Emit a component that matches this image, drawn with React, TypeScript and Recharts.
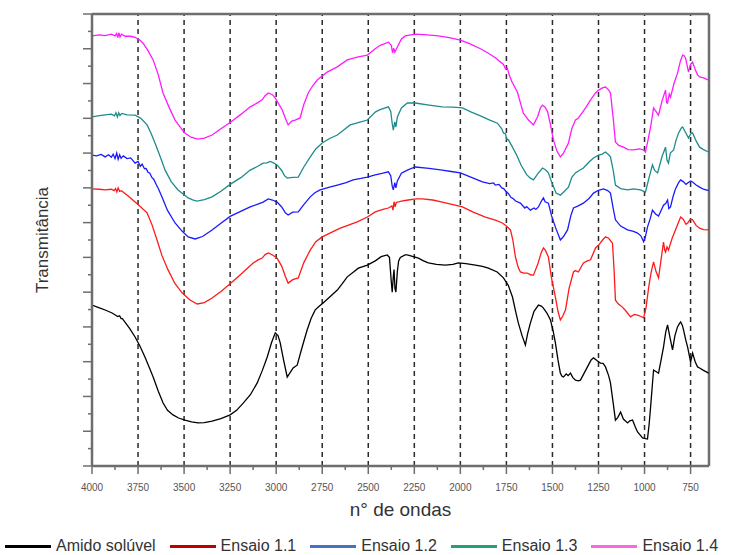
import { LineChart, Line, XAxis, YAxis, ReferenceLine } from 'recharts';

// [wavenumber, transmittance (a.u.)]
const amido: number[][] = [
  [4000, 4.63], [3960, 4.55], [3925, 4.48], [3891, 4.4], [3860, 4.3], [3850, 4.32], [3842, 4.24], [3835, 4.24], [3821, 4.14],
  [3795, 3.95], [3766, 3.71], [3740, 3.45], [3712, 3.13], [3690, 2.85], [3668, 2.56], [3640, 2.15], [3614, 1.81], [3590, 1.6],
  [3560, 1.47], [3530, 1.38], [3495, 1.32], [3460, 1.27], [3424, 1.24], [3390, 1.25], [3348, 1.29], [3300, 1.36], [3250, 1.47],
  [3215, 1.6], [3179, 1.81], [3140, 2.05], [3103, 2.39], [3075, 2.75], [3049, 3.13], [3025, 3.55], [3005, 3.83], [2990, 3.75],
  [2978, 3.54], [2960, 3.05], [2940, 2.56], [2920, 2.72], [2908, 2.82], [2886, 2.9], [2860, 3.4], [2832, 3.91], [2810, 4.25],
  [2788, 4.49], [2765, 4.6], [2745, 4.69], [2705, 4.88], [2668, 5.06], [2640, 5.25], [2614, 5.44], [2580, 5.58], [2554, 5.69],
  [2505, 5.78], [2462, 5.9], [2430, 6.02], [2397, 6.07], [2385, 6.0], [2375, 5.3], [2370, 5.0], [2364, 5.45], [2360, 5.65],
  [2355, 5.1], [2350, 5.0], [2342, 5.6], [2335, 5.9], [2326, 6.0], [2300, 6.07], [2288, 6.07], [2260, 6.03], [2228, 5.98],
  [2200, 5.9], [2174, 5.84], [2130, 5.8], [2082, 5.78], [2040, 5.8], [2011, 5.84], [1970, 5.82], [1918, 5.78], [1880, 5.74],
  [1848, 5.69], [1800, 5.58], [1766, 5.41], [1740, 5.2], [1717, 4.86], [1700, 4.45], [1685, 4.11], [1665, 3.75], [1647, 3.48],
  [1635, 3.8], [1620, 4.11], [1600, 4.45], [1576, 4.63], [1560, 4.6], [1549, 4.54], [1530, 4.4], [1511, 4.2], [1495, 3.85],
  [1484, 3.54], [1470, 3.05], [1457, 2.67], [1448, 2.58], [1440, 2.56], [1425, 2.65], [1415, 2.6], [1402, 2.67], [1390, 2.55],
  [1375, 2.47], [1360, 2.45], [1348, 2.47], [1330, 2.65], [1310, 2.85], [1290, 3.05], [1277, 3.11], [1255, 3.02], [1239, 2.96],
  [1225, 2.95], [1212, 2.85], [1195, 2.6], [1185, 2.39], [1170, 1.8], [1158, 1.32], [1145, 1.4], [1130, 1.55], [1115, 1.35],
  [1092, 1.24], [1080, 1.3], [1065, 1.32], [1050, 1.12], [1038, 0.98], [1022, 0.88], [1011, 0.81], [995, 0.79], [984, 0.78],
  [975, 1.2], [967, 1.7], [958, 2.3], [951, 2.76], [938, 2.72], [924, 2.67], [910, 3.05], [897, 3.42], [885, 3.85], [875, 4.06],
  [862, 3.7], [848, 3.34], [835, 3.75], [821, 4.0], [810, 4.1], [804, 4.14], [795, 4.05], [788, 3.91], [775, 3.6], [766, 3.42],
  [756, 3.15], [750, 2.99], [739, 3.25], [725, 3.0], [712, 2.85], [701, 2.82], [680, 2.75], [652, 2.67],
];

const ensaio11: number[][] = [
  [4000, 7.97], [3960, 7.96], [3929, 7.94], [3895, 7.96], [3880, 7.92], [3872, 7.98], [3865, 7.88], [3858, 8.0], [3850, 7.9],
  [3840, 7.92], [3800, 7.75], [3766, 7.59], [3735, 7.45], [3701, 7.28], [3675, 6.95], [3647, 6.5], [3620, 6.05], [3587, 5.64],
  [3550, 5.25], [3511, 4.98], [3470, 4.78], [3429, 4.66], [3390, 4.7], [3348, 4.83], [3300, 5.02], [3250, 5.24], [3190, 5.52],
  [3125, 5.84], [3100, 5.92], [3076, 5.98], [3060, 6.08], [3043, 6.13], [3020, 6.07], [2995, 5.98], [2970, 5.75], [2950, 5.45],
  [2935, 5.26], [2910, 5.36], [2880, 5.41], [2850, 5.85], [2815, 6.21], [2785, 6.45], [2750, 6.59], [2700, 6.72], [2652, 6.84],
  [2600, 6.94], [2560, 7.02], [2505, 7.16], [2462, 7.31], [2420, 7.38], [2391, 7.42], [2372, 7.48], [2366, 7.36], [2360, 7.6],
  [2354, 7.45], [2348, 7.58], [2320, 7.62], [2283, 7.65], [2240, 7.68], [2207, 7.68], [2150, 7.65], [2098, 7.59], [2040, 7.52],
  [1989, 7.45], [1930, 7.3], [1864, 7.16], [1810, 7.07], [1772, 6.99], [1750, 6.9], [1728, 6.79], [1715, 6.5], [1701, 6.01],
  [1685, 5.7], [1674, 5.58], [1655, 5.55], [1636, 5.55], [1620, 5.5], [1603, 5.49], [1580, 5.8], [1560, 6.15], [1549, 6.27],
  [1538, 6.2], [1522, 6.01], [1505, 5.4], [1484, 4.86], [1470, 4.45], [1457, 4.2], [1445, 4.3], [1429, 4.49], [1410, 5.1],
  [1386, 5.58], [1375, 5.62], [1359, 5.58], [1332, 5.84], [1310, 5.9], [1293, 5.93], [1280, 6.1], [1266, 6.27], [1245, 6.38],
  [1228, 6.5], [1212, 6.59], [1195, 6.55], [1174, 6.41], [1165, 5.6], [1158, 4.77], [1140, 4.65], [1120, 4.57], [1100, 4.45],
  [1076, 4.29], [1055, 4.36], [1038, 4.34], [1020, 4.3], [1005, 4.26], [992, 4.55], [978, 5.12], [965, 5.55], [951, 5.87],
  [938, 5.6], [924, 5.41], [910, 5.95], [897, 6.44], [890, 6.2], [886, 6.15], [878, 6.3], [870, 6.21], [850, 6.55], [832, 6.79],
  [815, 7.02], [804, 7.16], [790, 7.1], [775, 6.95], [766, 6.99], [750, 7.1], [739, 7.08], [720, 6.92], [701, 6.84], [680, 6.8],
  [652, 6.79],
];

const ensaio12: number[][] = [
  [4000, 8.94], [3975, 8.92], [3950, 8.96], [3929, 8.89], [3910, 8.95], [3895, 8.88], [3885, 8.97], [3875, 8.84], [3866, 9.0],
  [3858, 8.82], [3850, 8.95], [3842, 8.85], [3830, 8.92], [3810, 8.84], [3790, 8.86], [3766, 8.71], [3750, 8.76], [3738, 8.62],
  [3728, 8.68], [3715, 8.55], [3706, 8.56], [3696, 8.45], [3686, 8.42], [3675, 8.3], [3665, 8.25], [3650, 8.08], [3640, 7.98],
  [3620, 7.74], [3590, 7.35], [3549, 6.99], [3510, 6.75], [3478, 6.59], [3440, 6.53], [3400, 6.6], [3348, 6.79], [3300, 6.98],
  [3250, 7.18], [3190, 7.33], [3141, 7.45], [3100, 7.53], [3071, 7.59], [3043, 7.68], [3020, 7.65], [2995, 7.59], [2970, 7.45],
  [2950, 7.28], [2935, 7.22], [2910, 7.3], [2880, 7.31], [2850, 7.52], [2815, 7.74], [2790, 7.86], [2761, 7.94], [2710, 8.02],
  [2668, 8.08], [2620, 8.15], [2582, 8.23], [2540, 8.27], [2505, 8.31], [2462, 8.37], [2420, 8.42], [2391, 8.46], [2378, 8.35],
  [2370, 8.05], [2364, 7.94], [2356, 8.15], [2350, 8.0], [2342, 8.2], [2320, 8.42], [2288, 8.51], [2245, 8.6], [2170, 8.56],
  [2098, 8.51], [2050, 8.47], [2000, 8.43], [1940, 8.3], [1880, 8.17], [1840, 8.12], [1820, 8.14], [1810, 8.08], [1790, 8.1],
  [1775, 8.0], [1765, 7.98], [1750, 7.88], [1739, 7.84], [1725, 7.72], [1715, 7.7], [1700, 7.62], [1674, 7.56], [1650, 7.42],
  [1640, 7.46], [1620, 7.36], [1600, 7.42], [1590, 7.38], [1576, 7.45], [1560, 7.62], [1549, 7.71], [1540, 7.6], [1522, 7.56],
  [1505, 7.2], [1484, 6.87], [1457, 6.5], [1440, 6.6], [1418, 6.79], [1400, 7.2], [1386, 7.42], [1360, 7.48], [1332, 7.56],
  [1300, 7.7], [1277, 7.85], [1250, 7.93], [1223, 7.97], [1200, 7.92], [1185, 7.85], [1170, 7.4], [1158, 7.08], [1130, 6.9],
  [1092, 6.79], [1060, 6.75], [1038, 6.7], [1020, 6.62], [1005, 6.45], [995, 6.6], [984, 6.87], [970, 7.1], [957, 7.36],
  [940, 7.25], [924, 7.19], [910, 7.35], [897, 7.5], [885, 7.55], [875, 7.65], [868, 7.4], [859, 7.45], [845, 7.75], [832, 7.97],
  [815, 8.15], [804, 8.23], [790, 8.18], [775, 8.1], [766, 8.14], [750, 8.2], [739, 8.17], [720, 8.08], [701, 8.02], [680, 7.96],
  [652, 7.92],
];

const ensaio13: number[][] = [
  [4000, 10.04], [3960, 10.08], [3929, 10.1], [3895, 10.12], [3878, 10.07], [3870, 10.16], [3862, 10.04], [3855, 10.16],
  [3848, 10.08], [3838, 10.14], [3810, 10.1], [3766, 10.09], [3735, 10.0], [3701, 9.81], [3680, 9.58], [3658, 9.29], [3630, 8.9],
  [3603, 8.51], [3570, 8.18], [3533, 7.94], [3500, 7.8], [3478, 7.71], [3450, 7.65], [3429, 7.62], [3390, 7.66], [3348, 7.74],
  [3300, 7.9], [3250, 8.1], [3190, 8.3], [3141, 8.51], [3100, 8.62], [3071, 8.71], [3050, 8.72], [3033, 8.76], [3015, 8.72],
  [2995, 8.66], [2970, 8.5], [2955, 8.35], [2940, 8.28], [2910, 8.3], [2880, 8.31], [2850, 8.6], [2815, 8.89], [2785, 9.12],
  [2750, 9.29], [2710, 9.42], [2668, 9.52], [2630, 9.68], [2598, 9.81], [2550, 9.88], [2505, 9.95], [2462, 10.18], [2440, 10.24],
  [2391, 10.33], [2378, 10.2], [2370, 9.85], [2364, 9.66], [2356, 9.9], [2350, 9.75], [2342, 10.04], [2320, 10.3], [2288, 10.44],
  [2245, 10.44], [2170, 10.38], [2098, 10.33], [2040, 10.32], [1989, 10.3], [1940, 10.18], [1891, 10.07], [1840, 9.95],
  [1799, 9.86], [1775, 9.7], [1766, 9.58], [1755, 9.55], [1748, 9.4], [1739, 9.38], [1720, 9.2], [1695, 8.95], [1670, 8.65],
  [1640, 8.38], [1620, 8.28], [1603, 8.23], [1580, 8.4], [1554, 8.57], [1538, 8.52], [1522, 8.43], [1500, 8.1], [1480, 7.85],
  [1457, 7.79], [1435, 7.9], [1413, 8.02], [1395, 8.3], [1375, 8.43], [1355, 8.5], [1332, 8.57], [1300, 8.75], [1277, 8.86],
  [1250, 8.94], [1230, 8.97], [1212, 9.03], [1195, 8.95], [1185, 8.89], [1170, 8.5], [1158, 8.08], [1130, 7.98], [1092, 7.94],
  [1060, 7.97], [1022, 7.94], [995, 7.88], [975, 8.3], [957, 8.66], [945, 8.5], [929, 8.43], [905, 8.9], [886, 9.17], [878, 8.8],
  [870, 8.71], [860, 9.0], [842, 9.09], [830, 9.35], [815, 9.58], [800, 9.72], [793, 9.75], [778, 9.6], [761, 9.43], [750, 9.55],
  [739, 9.58], [720, 9.35], [701, 9.17], [680, 9.1], [652, 9.03],
];

const ensaio14: number[][] = [
  [4000, 12.37], [3960, 12.4], [3929, 12.38], [3895, 12.42], [3875, 12.37], [3866, 12.44], [3860, 12.32], [3854, 12.46],
  [3848, 12.34], [3840, 12.42], [3820, 12.36], [3790, 12.36], [3766, 12.33], [3740, 12.25], [3723, 12.16], [3700, 11.98],
  [3668, 11.68], [3640, 11.25], [3614, 10.72], [3580, 10.3], [3549, 9.95], [3520, 9.74], [3495, 9.57], [3460, 9.45], [3424, 9.4],
  [3390, 9.43], [3348, 9.52], [3300, 9.7], [3250, 9.88], [3190, 10.12], [3141, 10.33], [3100, 10.45], [3076, 10.53],
  [3060, 10.65], [3043, 10.73], [3020, 10.68], [3005, 10.58], [2985, 10.4], [2967, 10.24], [2950, 10.0], [2935, 9.81],
  [2915, 9.92], [2897, 9.95], [2870, 10.01], [2850, 10.4], [2826, 10.73], [2800, 10.95], [2777, 11.1], [2750, 11.22],
  [2723, 11.33], [2668, 11.48], [2614, 11.68], [2560, 11.76], [2505, 11.82], [2462, 12.0], [2435, 12.1], [2391, 12.19],
  [2375, 12.1], [2368, 11.88], [2362, 12.02], [2356, 11.9], [2342, 12.05], [2320, 12.28], [2299, 12.37], [2245, 12.42],
  [2180, 12.4], [2120, 12.37], [2060, 12.32], [2000, 12.25], [1950, 12.15], [1891, 12.0], [1850, 11.88], [1810, 11.74],
  [1766, 11.55], [1755, 11.42], [1745, 11.45], [1735, 11.25], [1720, 11.05], [1690, 10.75], [1658, 10.15], [1630, 9.95],
  [1603, 9.81], [1580, 10.05], [1565, 10.3], [1554, 10.38], [1540, 10.32], [1527, 10.2], [1510, 9.8], [1495, 9.38],
  [1475, 9.05], [1457, 8.89], [1440, 9.0], [1413, 9.29], [1395, 9.7], [1375, 9.95], [1360, 10.0], [1348, 10.09], [1320, 10.3],
  [1293, 10.53], [1266, 10.73], [1250, 10.81], [1225, 10.88], [1212, 10.9], [1195, 10.82], [1185, 10.73], [1170, 10.0],
  [1158, 9.32], [1140, 9.22], [1114, 9.17], [1090, 9.1], [1060, 9.09], [1030, 9.12], [1005, 9.09], [995, 9.03], [980, 9.4],
  [967, 9.75], [951, 10.3], [938, 10.2], [924, 10.09], [905, 10.5], [886, 10.81], [880, 10.45], [875, 10.44], [866, 10.7],
  [859, 10.61], [840, 11.0], [821, 11.3], [805, 11.65], [793, 11.82], [785, 11.8], [777, 11.73], [768, 11.5], [761, 11.33],
  [750, 11.55], [739, 11.62], [725, 11.4], [712, 11.25], [701, 11.19], [680, 11.16], [652, 11.1],
];

const xTicks = [4000, 3875, 3750, 3625, 3500, 3375, 3250, 3125, 3000, 2875, 2750, 2625, 2500, 2375, 2250, 2125, 2000, 1875, 1750, 1625, 1500, 1375, 1250, 1125, 1000, 875, 750];
const gridLines = [3750, 3500, 3250, 3000, 2750, 2500, 2250, 2000, 1750, 1500, 1250, 1000, 750];
const yTicks = [0, 0.5, 1, 1.5, 2, 2.5, 3, 3.5, 4, 4.5, 5, 5.5, 6, 6.5, 7, 7.5, 8, 8.5, 9, 9.5, 10, 10.5, 11, 11.5, 12, 12.5, 13];

const series = [
  { name: 'Amido solúvel', data: amido, color: '#000000', legend: '#000000' },
  { name: 'Ensaio 1.1', data: ensaio11, color: '#ff1a1a', legend: '#c00000' },
  { name: 'Ensaio 1.2', data: ensaio12, color: '#1a1aff', legend: '#4472c4' },
  { name: 'Ensaio 1.3', data: ensaio13, color: '#1e8c8c', legend: '#23a07c' },
  { name: 'Ensaio 1.4', data: ensaio14, color: '#ff1aff', legend: '#ff66dd' },
];

const toRows = (pts: number[][]) => pts.map(([wn, t]) => ({ wn, t }));

const AXIS = '#6e6e6e';

function XTick({ x, y, payload }: any) {
  const v = payload.value;
  const major = v % 250 === 0;
  return (
    <g>
      <line x1={x} x2={x} y1={y} y2={y + (major ? 8 : 4)} stroke={AXIS} strokeWidth={1.5} />
      {major && (
        <text x={x} y={y + 25} textAnchor="middle" fontSize={10} fill="#555">
          {v}
        </text>
      )}
    </g>
  );
}

function YTick({ x, y, payload }: any) {
  const major = payload.value % 1 === 0;
  return <line x1={x} x2={x - (major ? 9 : 4)} y1={y} y2={y} stroke={AXIS} strokeWidth={1.5} />;
}

export default function App() {
  return (
    <div style={{ position: 'absolute', left: 0, top: 0, width: 750, height: 555, background: '#fff', fontFamily: '"Liberation Sans", Arial, sans-serif', overflow: 'hidden' }}>
      <LineChart width={750} height={530} margin={{ top: 14, right: 41, left: 0, bottom: 0 }}>
        <XAxis
          dataKey="wn" type="number" domain={[650, 4000]} reversed allowDataOverflow
          ticks={xTicks} interval={0} tick={<XTick />} tickLine={false} tickSize={0} tickMargin={0}
          axisLine={{ stroke: AXIS, strokeWidth: 2.5 }} height={64}
          label={{ value: 'n° de ondas', position: 'insideTop', offset: 37, fontSize: 19, fill: '#333' }}
        />
        <YAxis
          type="number" domain={[0, 13]} ticks={yTicks} interval={0} width={92}
          tick={<YTick />} tickLine={false} tickSize={0} tickMargin={0}
          axisLine={{ stroke: AXIS, strokeWidth: 2.5 }}
          label={{ value: 'Transmitância', angle: -90, position: 'center', dx: -4, fontSize: 17, fill: '#333' }}
        />
        {gridLines.map(g => (
          <ReferenceLine key={g} x={g} stroke="#2a2a2a" strokeWidth={1.5} strokeDasharray="5 4" />
        ))}
        {/* plot frame: top and right edges */}
        <ReferenceLine y={13} stroke={AXIS} strokeWidth={2.5} ifOverflow="visible" />
        <ReferenceLine x={650} stroke={AXIS} strokeWidth={2.5} ifOverflow="visible" />
        {series.map(s => (
          <Line
            key={s.name} data={toRows(s.data)} dataKey="t" name={s.name} type="linear"
            stroke={s.color} strokeWidth={1.3} dot={false} activeDot={false} isAnimationActive={false}
          />
        ))}
      </LineChart>
      <div style={{ position: 'absolute', left: 5, top: 537, display: 'flex', alignItems: 'center', whiteSpace: 'nowrap', fontSize: 16, color: '#333' }}>
        {series.map(s => (
          <div key={s.name} style={{ display: 'flex', alignItems: 'center', marginRight: 14 }}>
            <div style={{ width: 46, height: 3, background: s.legend, marginRight: 5 }} />
            <span>{s.name}</span>
          </div>
        ))}
      </div>
    </div>
  );
}
